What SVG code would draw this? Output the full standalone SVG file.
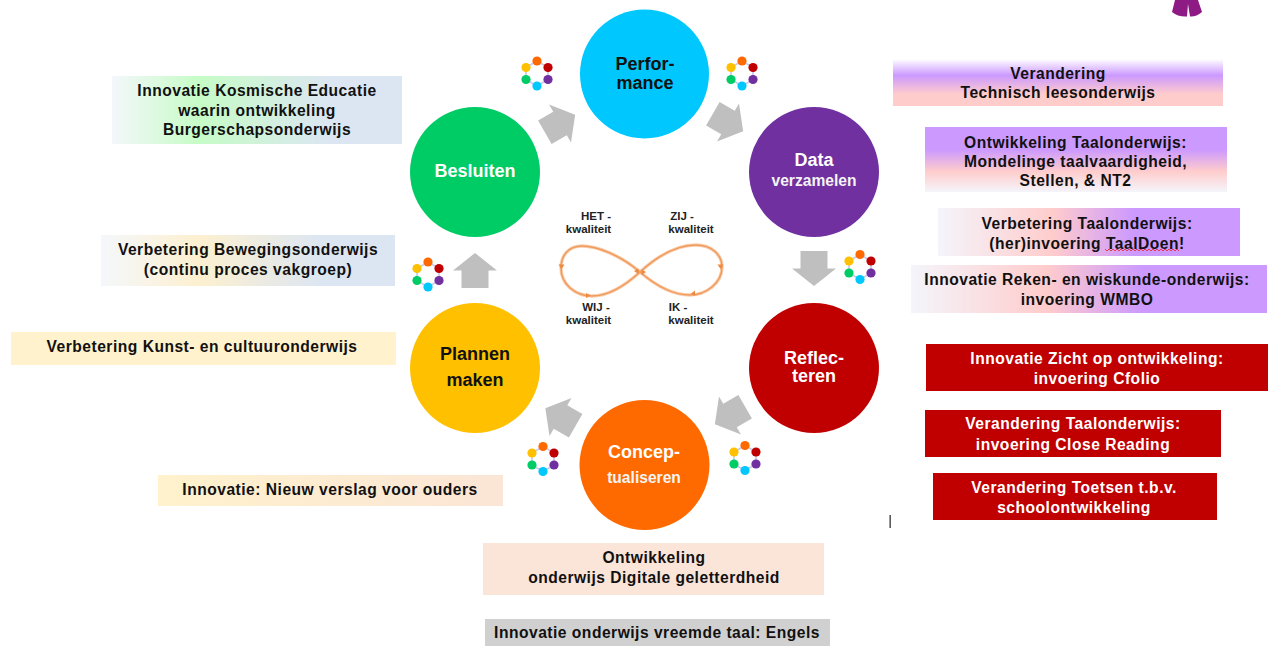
<svg xmlns="http://www.w3.org/2000/svg" width="1268" height="646" viewBox="0 0 1268 646">
<style>
text{font-family:"Liberation Sans",Arial,sans-serif;font-weight:700;text-anchor:middle}
.l{font-size:15.6px;letter-spacing:.5px;fill:#111}
.w{font-size:15.6px;letter-spacing:.5px;fill:#fff}
.n{font-size:18px;fill:#fff}
.k{fill:#111}
.s{font-size:15.6px;fill:#f4f4f4}
.q{font-size:11.5px;fill:#222}
.arrow{fill:#bfbfbf}
</style>
<defs>
<linearGradient id="g1"><stop offset="0" stop-color="#f4f7fb"/><stop offset=".3" stop-color="#c6fcc6"/><stop offset=".75" stop-color="#dce6f2"/></linearGradient>
<linearGradient id="g2"><stop offset="0" stop-color="#f4f7fb"/><stop offset=".33" stop-color="#fdf0d0"/><stop offset=".75" stop-color="#dce6f2"/></linearGradient>
<linearGradient id="g3"><stop offset="0" stop-color="#fff2cc"/><stop offset="1" stop-color="#fbe5d6"/></linearGradient>
<linearGradient id="g4" x2="0" y2="1"><stop offset="0" stop-color="#fff"/><stop offset=".35" stop-color="#cc99ff"/><stop offset=".75" stop-color="#ffcccc"/></linearGradient>
<linearGradient id="g5" x2="0" y2="1"><stop offset="0" stop-color="#cc99ff"/><stop offset=".35" stop-color="#cc99ff"/><stop offset=".68" stop-color="#ffcccc"/><stop offset="1" stop-color="#f5f5fb"/></linearGradient>
<linearGradient id="g6"><stop offset="0" stop-color="#f4f5fb"/><stop offset=".38" stop-color="#ffcccc"/><stop offset=".65" stop-color="#cc99ff"/></linearGradient>
<path id="ar" class="arrow" d="M0,-17.5L22,0H13.500V17.500H-13.500V0H-22Z"/>
<g id="ring">
<path d="M0,-12.500L11,-6V6L0,12.500L-11,6V-6Z" fill="none" stroke="#ccccea" stroke-width="1.800"/>
<circle cy="-12.500" r="4.600" fill="#ff6a00"/><circle cx="11" cy="-6" r="4.600" fill="#c00000"/><circle cx="11" cy="6" r="4.600" fill="#7030a0"/><circle cy="12.500" r="4.600" fill="#00c8ff"/><circle cx="-11" cy="6" r="4.600" fill="#00cc66"/><circle cx="-11" cy="-6" r="4.600" fill="#ffc000"/>
</g>
</defs>
<rect width="1268" height="646" fill="#fff"/>
<g id="connectors">
<use href="#ar" transform="translate(560,123.500) rotate(60)"/>
<use href="#ar" transform="translate(728,122.500) rotate(120)"/>
<use href="#ar" transform="translate(814,268.500) rotate(180)"/>
<use href="#ar" transform="translate(730,415.500) rotate(240)"/>
<use href="#ar" transform="translate(560.500,417) rotate(-60)"/>
<use href="#ar" transform="translate(475,270.500)"/>
</g>
<g id="rings">
<use href="#ring" x="537" y="73.500"/><use href="#ring" x="742" y="73.500"/><use href="#ring" x="860" y="267"/><use href="#ring" x="745" y="458"/><use href="#ring" x="543" y="459"/><use href="#ring" x="428" y="274.500"/>
</g>
<g id="node-performance"><circle cx="644.500" cy="74" r="64.500" fill="#00c8ff"/><text class="n k" x="645" y="70">Perfor-</text><text class="n k" x="645" y="89">mance</text></g>
<g id="node-data"><circle cx="814" cy="172" r="65" fill="#7030a0"/><text class="n" x="814" y="166">Data</text><text class="s" x="814" y="186">verzamelen</text></g>
<g id="node-reflecteren"><circle cx="814" cy="368" r="65" fill="#c00000"/><text class="n" x="814" y="364">Reflec-</text><text class="n" x="814" y="382">teren</text></g>
<g id="node-conceptualiseren"><circle cx="644.500" cy="465" r="65" fill="#ff6a00"/><text class="n" x="644" y="458">Concep-</text><text class="s" x="644" y="483">tualiseren</text></g>
<g id="node-plannen"><circle cx="475" cy="368" r="65" fill="#ffc000"/><text class="n k" x="475" y="360">Plannen</text><text class="n k" x="475" y="386">maken</text></g>
<g id="node-besluiten"><circle cx="475" cy="172" r="65" fill="#00cc66"/><text class="n" x="475" y="177">Besluiten</text></g>
<g id="infinity" fill="none">
<path stroke="#f9cfae" stroke-width="3.400" d="M640,272C620,255 597,246 582,246C568,246 561,256 561,268C561,284 575,296 592,296C610,296 628,283 640,272C652,261 672,245 696,245C712,245 722,255 722,267C722,283 706,295 690,295C672,295 655,285 640,272Z"/>
<path stroke="#f09a5c" stroke-width="1.500" d="M640,272C620,255 597,246 582,246C568,246 561,256 561,268C561,284 575,296 592,296C610,296 628,283 640,272C652,261 672,245 696,245C712,245 722,255 722,267C722,283 706,295 690,295C672,295 655,285 640,272Z"/>
<path fill="#f0883e" d="M558.500,264.500H564.500L561.500,269ZM717.500,264.500H723.500L720.500,269ZM586,293L590.500,295.500L586,298ZM695,290.500V296L691,293.500ZM634,271L638.500,268.500V274ZM646,272L641.500,269.500V275Z"/>
</g>
<g id="quality">
<text class="q" x="596" y="220">HET -</text><text class="q" x="588.500" y="233">kwaliteit</text>
<text class="q" x="682" y="220">ZIJ -</text><text class="q" x="691" y="233">kwaliteit</text>
<text class="q" x="596" y="311">WIJ -</text><text class="q" x="588.500" y="324">kwaliteit</text>
<text class="q" x="678" y="311">IK -</text><text class="q" x="691" y="324">kwaliteit</text>
</g>
<g id="box-kosmische"><rect x="112" y="76" width="290" height="68" fill="url(#g1)"/><text class="l" x="257" y="96">Innovatie Kosmische Educatie</text><text class="l" x="257" y="116">waarin ontwikkeling</text><text class="l" x="257" y="135">Burgerschapsonderwijs</text></g>
<g id="box-beweging"><rect x="101" y="235" width="294" height="51" fill="url(#g2)"/><text class="l" x="248" y="255">Verbetering Bewegingsonderwijs</text><text class="l" x="248" y="275">(continu proces vakgroep)</text></g>
<g id="box-kunst"><rect x="11" y="332" width="385" height="33" fill="#fff2cc"/><text class="l" x="202" y="352">Verbetering Kunst- en cultuuronderwijs</text></g>
<g id="box-verslag"><rect x="158" y="475" width="345" height="31" fill="url(#g3)"/><text class="l" x="330" y="495">Innovatie: Nieuw verslag voor ouders</text></g>
<g id="box-digitaal"><rect x="483" y="543" width="341" height="52" fill="#fbe5d9"/><text class="l" x="654" y="563">Ontwikkeling</text><text class="l" x="654" y="583">onderwijs Digitale geletterdheid</text></g>
<g id="box-engels"><rect x="485" y="619" width="345" height="27" fill="#d0d0d0"/><text class="l" x="657" y="638">Innovatie onderwijs vreemde taal: Engels</text></g>
<g id="box-technisch"><rect x="893" y="59" width="330" height="47" fill="url(#g4)"/><text class="l" x="1058" y="79">Verandering</text><text class="l" x="1058" y="98">Technisch leesonderwijs</text></g>
<g id="box-mondeling"><rect x="925" y="127" width="302" height="65" fill="url(#g5)"/><text class="l" x="1075.500" y="148">Ontwikkeling Taalonderwijs:</text><text class="l" x="1075.500" y="167">Mondelinge taalvaardigheid,</text><text class="l" x="1075.500" y="186">Stellen, &amp; NT2</text></g>
<g id="box-taaldoen"><rect x="938" y="208" width="302" height="48" fill="url(#g6)"/><text class="l" x="1087" y="228.500">Verbetering Taalonderwijs:</text><text class="l" x="1087" y="248.500">(her)invoering TaalDoen!</text><path d="M1105,249l2,2 2,-2 2,2 2,-2 2,2 2,-2 2,2 2,-2 2,2 2,-2 2,2 2,-2 2,2 2,-2 2,2 2,-2 2,2 2,-2 2,2 2,-2 2,2 2,-2 2,2 2,-2 2,2 2,-2 2,2 2,-2 2,2 2,-2 2,2 2,-2 2,2 2,-2 2,2 2,-2 2,2" fill="none" stroke="#e22" stroke-width=".8"/></g>
<g id="box-reken"><rect x="911" y="265" width="356" height="48" fill="url(#g6)"/><text class="l" x="1087" y="285">Innovatie Reken- en wiskunde-onderwijs:</text><text class="l" x="1087" y="305">invoering WMBO</text></g>
<g id="box-cfolio"><rect x="926" y="344" width="342" height="47" fill="#c00000"/><text class="w" x="1097" y="364">Innovatie Zicht op ontwikkeling:</text><text class="w" x="1097" y="384">invoering Cfolio</text></g>
<g id="box-close"><rect x="925" y="410" width="296" height="47" fill="#c00000"/><text class="w" x="1073" y="429">Verandering Taalonderwijs:</text><text class="w" x="1073" y="450">invoering Close Reading</text></g>
<g id="box-toetsen"><rect x="933" y="473" width="284" height="47" fill="#c00000"/><text class="w" x="1074" y="493">Verandering Toetsen t.b.v.</text><text class="w" x="1074" y="513">schoolontwikkeling</text></g>
<rect x="889.500" y="515" width="1.300" height="13" fill="#333"/>
<path d="M1175,0H1198L1202,12Q1196,17 1190,16.500L1188,4L1187,16.500Q1178,17 1172,12Z" fill="#8e1a84"/>
</svg>
